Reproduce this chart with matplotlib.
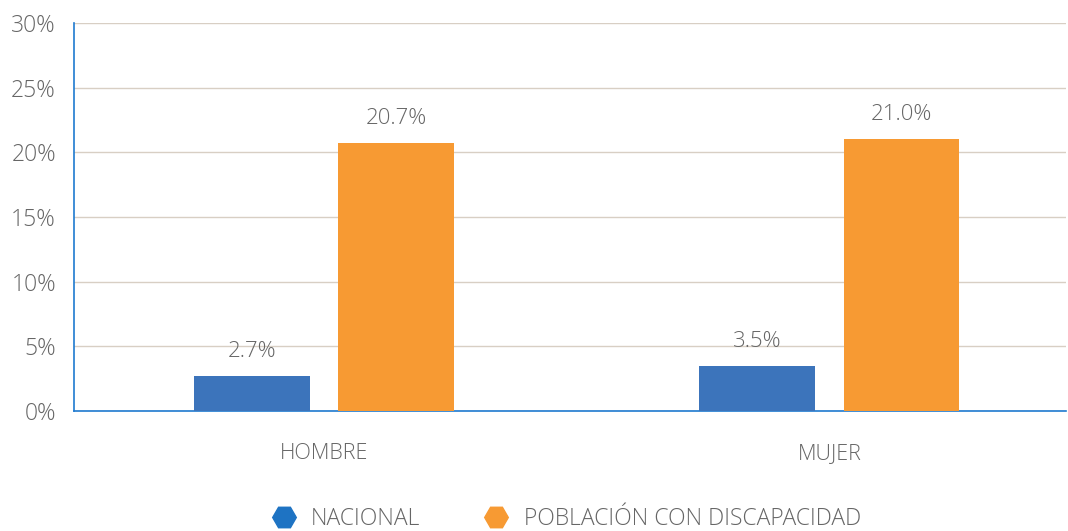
import numpy as np
import matplotlib
matplotlib.use("Agg")
import matplotlib.pyplot as plt
from matplotlib.lines import Line2D

plt.rcParams['font.family'] = ['Open Sans', 'DejaVu Sans']
plt.rcParams['font.weight'] = 'light'

# data
categorias = ["HOMBRE", "MUJER"]
nacional = [2.7, 3.5]
discapacidad = [20.7, 21.0]
series = ["NACIONAL", "POBLACIÓN CON DISCAPACIDAD"]

c_azul = "#3c74bb"
c_naranja = "#f79a33"
c_texto = "#666666"

fig = plt.figure(figsize=(10.68, 5.31), dpi=100)
ax = fig.add_axes([0.0693, 0.226, 0.9287, 0.7307])

x = np.arange(len(categorias))
w = 0.229
off = 0.143
b1 = ax.bar(x - off, nacional, w, color=c_azul, zorder=3)
b2 = ax.bar(x + off, discapacidad, w, color=c_naranja, zorder=3)

for bars, vals in [(b1, nacional), (b2, discapacidad)]:
    for r, v in zip(bars, vals):
        ax.text(r.get_x() + r.get_width() / 2, v + 1.1, f"{v:.1f}%",
                ha="center", va="bottom", fontsize=16, color=c_texto)

ax.set_xlim(-0.4946, 1.468)
ax.set_ylim(0, 30)
ax.set_yticks(range(0, 31, 5))
ax.set_yticklabels([f"{t}%" for t in range(0, 31, 5)])
ax.set_xticks(x)
ax.set_xticklabels(categorias)
ax.tick_params(axis="y", length=0, pad=13, labelsize=16.5, labelcolor=c_texto)
ax.tick_params(axis="x", length=0, pad=23, labelsize=15.5, labelcolor=c_texto)
ax.yaxis.grid(True, color="#d8cfc4", linewidth=1, zorder=0)
for s in ["top", "right"]:
    ax.spines[s].set_visible(False)
ax.spines["left"].set_color("#1f7ad0")
ax.spines["bottom"].set_color("#1f7ad0")
ax.spines["left"].set_linewidth(1.2)
ax.spines["bottom"].set_linewidth(1.2)

handles = [Line2D([], [], marker="H", linestyle="none", markersize=17, color="#1e73c3"),
           Line2D([], [], marker="H", linestyle="none", markersize=17, color=c_naranja)]
fig.legend(handles, series, loc="lower center", bbox_to_anchor=(0.525, -0.038), ncol=2,
           frameon=False, fontsize=16.5, labelcolor=c_texto, handletextpad=0.2,
           columnspacing=2.3)

fig.savefig("out.png", dpi=100)
